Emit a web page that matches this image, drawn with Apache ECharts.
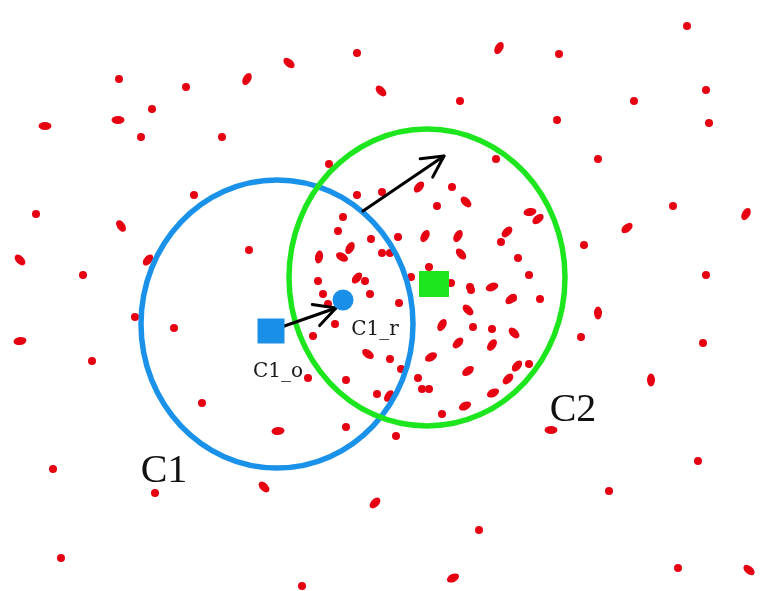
<!DOCTYPE html>
<html>
<head>
<meta charset="utf-8">
<script src="https://cdn.jsdelivr.net/npm/echarts@6/dist/echarts.min.js"></script>
<style>
html, body { margin: 0; padding: 0; background: #fff; }
#main { width: 770px; height: 591px; }
</style>
</head>
<body>
<div id="main"></div>
<script>
// round red points (picture coords, y grows downward)
var dots = [
    [119,79],[186,87],[152,109],[141,137],[222,137],[194,195],[36,214],[83,275],[249,250],
    [357,53],[460,101],[687,26],[559,54],[706,90],[634,101],[557,120],[709,123],[598,159],
    [673,206],[584,245],[706,275],[329,164],[496,159],
    [135,317],[174,328],[92,361],[202,403],[53,469],[155,493],[61,558],[302,586],
    [346,427],[396,436],[479,530],[581,337],[703,343],[529,364],[698,461],[609,491],[678,568],
    [343,217],[338,231],[371,239],[398,237],[382,192],[357,195],[452,187],[437,206],
    [501,242],[518,258],[429,267],[529,275],[451,283],[470,287],[318,281],[365,281],
    [370,294],[323,294],[382,253],[390,253],[399,303],[328,304],[335,324],[313,336],
    [390,359],[401,369],[308,378],[346,380],[377,394],[418,378],[422,389],[429,389],
    [473,327],[492,329],[442,414],[471,290],[540,299],[513,298],[411,277]
];
// elongated red points and their tilt in degrees
var dashes = [
    [247,79],[45,126],[118,120],[121,226],[20,260],[148,260],[289,63],[381,91],[499,48],
    [419,187],[466,202],[425,236],[458,236],[507,232],[350,248],[342,257],[319,257],
    [461,254],[357,278],[492,287],[530,212],[538,219],[627,228],[746,214],[20,341],
    [368,354],[389,396],[442,325],[431,357],[468,310],[492,345],[468,371],[493,393],
    [465,406],[278,431],[264,487],[375,503],[453,578],[598,313],[514,333],[517,366],
    [651,380],[551,430],[749,570],[511,299],[458,343],[508,379]
];
var dashTilt = [
    60,0,0,-55,-45,50,-40,-45,60,
    50,-45,60,60,45,60,-30,80,
    -50,50,20,10,40,40,60,8,
    -35,55,60,30,-45,55,35,25,
    25,4,-45,45,25,90,-45,50,
    90,0,-40,40,45,45
];
// clusters: centre x, centre y, half width, half height
var clusters = [[277,324,136,144],[427,277.5,138,148.5]];
var origCentre = [[271,331]];
var movedCentre = [[343,300]];
var c2Centre = [[434,284]];
// arrows: from x, from y, to x, to y
var arrows = [[273,330,336,308],[363,211,444,156]];
var bigLabels = [['C1',164,471],['C2',573,410]];
var smallLabels = [['C1_o',278,372],['C1_r',375,330]];

var chart = echarts.init(document.getElementById('main'));

var ringColors = ['#1a92ea', '#1ee61e'];

var option = {
    backgroundColor: '#fff',
    animation: false,
    grid: { left: 0, right: 0, top: 0, bottom: 0 },
    xAxis: { type: 'value', min: 0, max: 770, show: false },
    yAxis: { type: 'value', min: 0, max: 591, inverse: true, show: false },
    series: [
        {
            type: 'scatter',
            symbol: 'circle',
            symbolSize: 8,
            itemStyle: { color: '#e60012', opacity: 1 },
            data: dots,
            z: 1
        },
        {
            type: 'scatter',
            symbol: 'circle',
            itemStyle: { color: '#e60012', opacity: 1 },
            data: dashes.map(function (d, i) {
                return { value: d, symbolRotate: dashTilt[i], symbolSize: [13, 8] };
            }),
            z: 1
        },
        {
            type: 'custom',
            data: clusters,
            z: 2,
            renderItem: function (params, api) {
                var c = api.coord([api.value(0), api.value(1)]);
                var s = api.size([api.value(2), api.value(3)]);
                return {
                    type: 'ellipse',
                    shape: { cx: c[0], cy: c[1], rx: s[0], ry: s[1] },
                    style: { fill: 'none', stroke: ringColors[params.dataIndex], lineWidth: 5.5 }
                };
            }
        },
        {
            type: 'custom',
            data: arrows,
            z: 3,
            renderItem: function (params, api) {
                var a = api.coord([api.value(0), api.value(1)]);
                var b = api.coord([api.value(2), api.value(3)]);
                var ang = Math.atan2(b[1] - a[1], b[0] - a[0]);
                var len = 24, spread = Math.PI / 6.5;
                var p1 = [b[0] - len * Math.cos(ang - spread), b[1] - len * Math.sin(ang - spread)];
                var p2 = [b[0] - len * Math.cos(ang + spread), b[1] - len * Math.sin(ang + spread)];
                var st = { fill: 'none', stroke: '#000', lineWidth: 3, lineCap: 'round', lineJoin: 'round' };
                return {
                    type: 'group',
                    children: [
                        { type: 'line', shape: { x1: a[0], y1: a[1], x2: b[0], y2: b[1] }, style: st },
                        { type: 'polyline', shape: { points: [p1, b, p2] }, style: st }
                    ]
                };
            }
        },
        {
            type: 'scatter',
            symbol: 'rect',
            symbolSize: [27, 25],
            itemStyle: { color: '#1a8fe8', opacity: 1 },
            data: origCentre,
            z: 4
        },
        {
            type: 'scatter',
            symbol: 'circle',
            symbolSize: 21,
            itemStyle: { color: '#1a8fe8', opacity: 1 },
            data: movedCentre,
            z: 4
        },
        {
            type: 'scatter',
            symbol: 'rect',
            symbolSize: [30, 26],
            itemStyle: { color: '#1ee61e', opacity: 1 },
            data: c2Centre,
            z: 4
        },
        {
            type: 'scatter',
            symbolSize: 0,
            z: 5,
            itemStyle: { opacity: 1 },
            data: bigLabels.map(function (d) { return { name: d[0], value: [d[1], d[2]] }; }),
            label: {
                show: true, position: 'inside', formatter: '{b}',
                fontFamily: 'Liberation Serif', fontSize: 40, color: '#111'
            }
        },
        {
            type: 'scatter',
            symbolSize: 0,
            z: 5,
            itemStyle: { opacity: 1 },
            data: smallLabels.map(function (d) { return { name: d[0], value: [d[1], d[2]] }; }),
            label: {
                show: true, position: 'inside', formatter: '{b}',
                fontFamily: 'DejaVu Serif', fontSize: 20, color: '#1a1a1a'
            }
        }
    ]
};
chart.setOption(option);
</script>
</body>
</html>
